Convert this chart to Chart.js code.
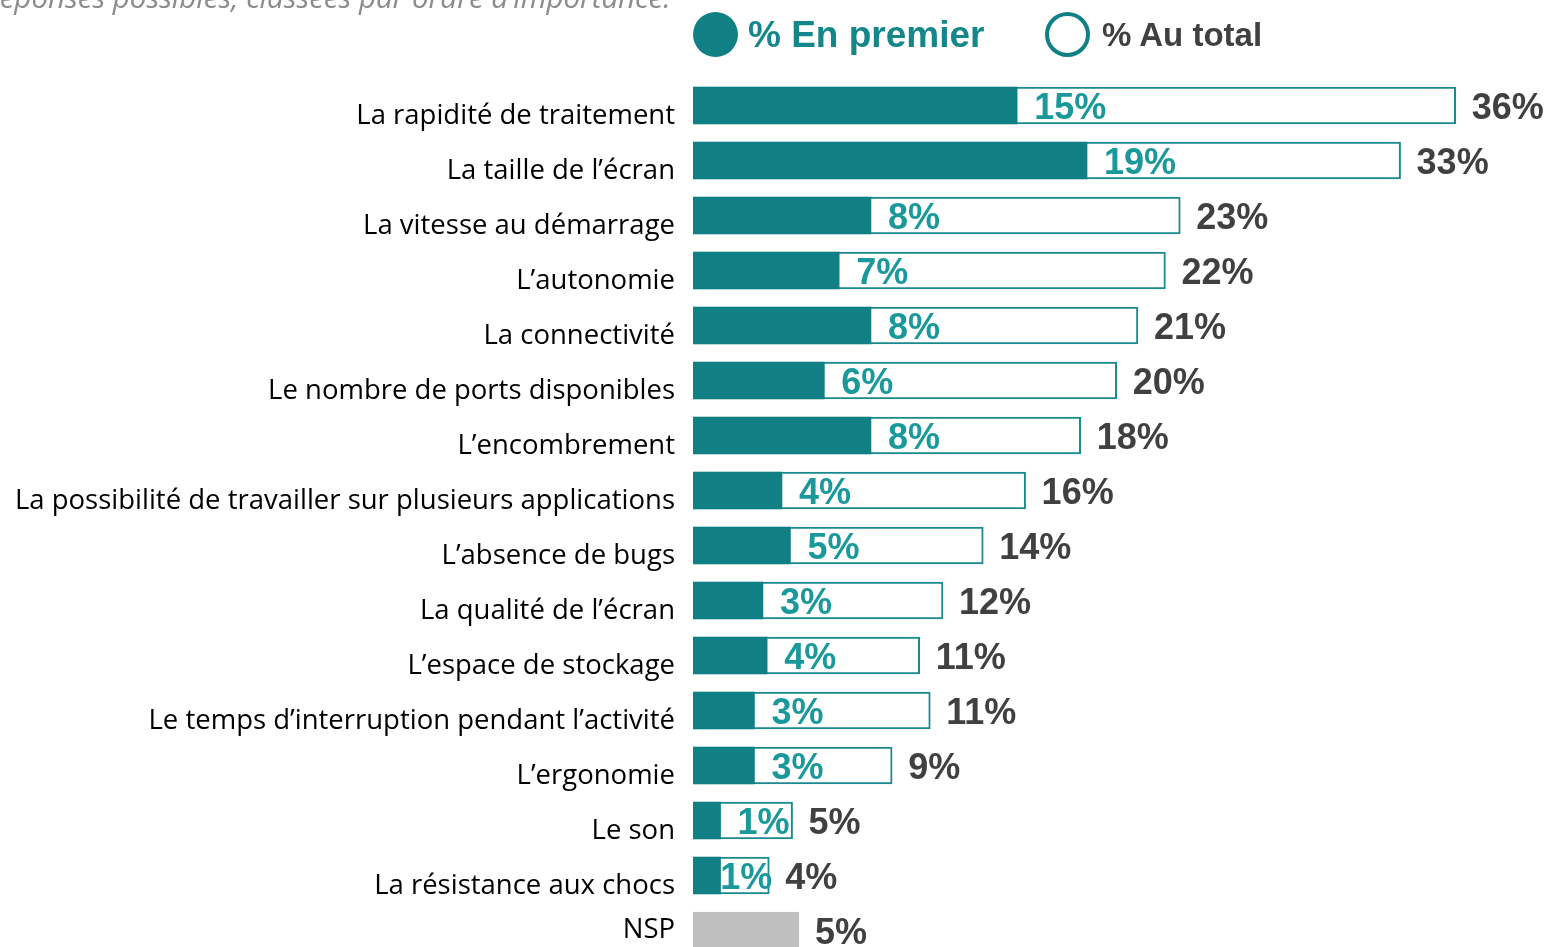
<!DOCTYPE html>
<html lang="fr">
<head>
    <meta charset="UTF-8">
    <title>Critères d'importance</title>
    <script src="https://cdn.jsdelivr.net/npm/chart.js"></script>
    <style>
        body { margin: 0; overflow: hidden; background: #fff; }
        #wrap { position: relative; width: 1551px; height: 960px; }
        .note { position: absolute; left: -12px; top: -24px; font: italic 29.5px "Open Sans", sans-serif; color: #8c8c8c; white-space: nowrap; }
        .dot { position: absolute; top: 12px; width: 45px; height: 45px; border-radius: 50%; box-sizing: border-box; }
        .leg { position: absolute; font-family: "Liberation Sans", Arial, sans-serif; font-weight: bold; white-space: nowrap; line-height: 1; }
    </style>
</head>
<body>
<div id="wrap">
    <canvas id="chart" width="1551" height="960"></canvas>
    <div class="note">réponses possibles, classées par ordre d’importance.</div>
    <div class="dot" style="left:693px; background:#118085;"></div>
    <div class="leg" style="left:748px; top:16px; font-size:37px; color:#15878b;">% En premier</div>
    <div class="dot" style="left:1045px; border:4px solid #118085;"></div>
    <div class="leg" style="left:1102px; top:18px; font-size:33px; color:#404040;">% Au total</div>
</div>

<script>
    const categories = [
        'La rapidité de traitement',
        'La taille de l’écran',
        'La vitesse au démarrage',
        'L’autonomie',
        'La connectivité',
        'Le nombre de ports disponibles',
        'L’encombrement',
        'La possibilité de travailler sur plusieurs applications',
        'L’absence de bugs',
        'La qualité de l’écran',
        'L’espace de stockage',
        'Le temps d’interruption pendant l’activité',
        'L’ergonomie',
        'Le son',
        'La résistance aux chocs',
        'NSP'
    ];
    // bar lengths (%)
    const premierValues = [15.3, 18.6, 8.4, 6.9, 8.4, 6.2, 8.4, 4.2, 4.6, 3.3, 3.5, 2.9, 2.9, 1.3, 1.3, null];
    const totalValues = [36.0, 33.4, 23.0, 22.3, 21.0, 20.0, 18.3, 15.7, 13.7, 11.8, 10.7, 11.2, 9.4, 4.7, 3.6, 5.0];
    // printed labels
    const premierLabels = ['15%', '19%', '8%', '7%', '8%', '6%', '8%', '4%', '5%', '3%', '4%', '3%', '3%', '1%', '1%', ''];
    const totalLabels = ['36%', '33%', '23%', '22%', '21%', '20%', '18%', '16%', '14%', '12%', '11%', '11%', '9%', '5%', '4%', '5%'];

    const teal = '#118085';
    const nsp = categories.length - 1;

    const valueLabels = {
        id: 'valueLabels',
        afterDatasetsDraw(chart) {
            const ctx = chart.ctx;
            const totals = chart.getDatasetMeta(1).data;
            ctx.save();
            ctx.font = 'bold 36px "Liberation Sans", Arial, sans-serif';
            ctx.textBaseline = 'middle';
            ctx.textAlign = 'left';
            totals.forEach((bar, i) => {
                ctx.fillStyle = '#404040';
                ctx.fillText(totalLabels[i], bar.x + 16, bar.y + 4);
            });
            chart.getDatasetMeta(0).data.forEach((bar, i) => {
                if (!premierLabels[i]) return;
                const w = ctx.measureText(premierLabels[i]).width;
                // keep the label inside the outlined bar when it is short
                const x = Math.min(bar.x + 17, totals[i].x + 3 - w);
                ctx.fillStyle = '#1a999c';
                ctx.fillText(premierLabels[i], x, bar.y + 4);
            });
            ctx.restore();
        }
    };

    new Chart(document.getElementById('chart'), {
        type: 'bar',
        data: {
            labels: categories,
            datasets: [
                {
                    label: '% En premier',
                    data: premierValues,
                    backgroundColor: teal,
                    borderWidth: 0,
                    barThickness: 37
                },
                {
                    label: '% Au total',
                    data: totalValues,
                    backgroundColor: categories.map((c, i) => i === nsp ? '#bfbfbf' : '#ffffff'),
                    borderColor: categories.map((c, i) => i === nsp ? '#bfbfbf' : '#1a8a8e'),
                    borderWidth: 2,
                    barThickness: 37
                }
            ]
        },
        options: {
            indexAxis: 'y',
            responsive: false,
            animation: false,
            layout: { padding: { top: 78, bottom: 2, left: 0, right: 0 } },
            plugins: {
                legend: { display: false },
                tooltip: { enabled: false }
            },
            datasets: { bar: { grouped: false } },
            scales: {
                x: {
                    display: false,
                    min: 0,
                    max: 40.5
                },
                y: {
                    grid: { display: false, drawTicks: false },
                    border: { display: false },
                    ticks: {
                        color: '#000',
                        padding: 18,
                        // empty first line nudges the label a little below the bar centre
                        callback(value, index) {
                            const label = this.getLabelForValue(value);
                            return index === nsp ? label : ['', label];
                        },
                        font: { family: '"Open Sans", sans-serif', size: 27.5, lineHeight: 0.75 }
                    },
                    afterFit(scale) {
                        scale.width = 693;
                        scale.paddingTop = 0;
                        scale.paddingBottom = 0;
                    }
                }
            }
        },
        plugins: [valueLabels]
    });
</script>
</body>
</html>
